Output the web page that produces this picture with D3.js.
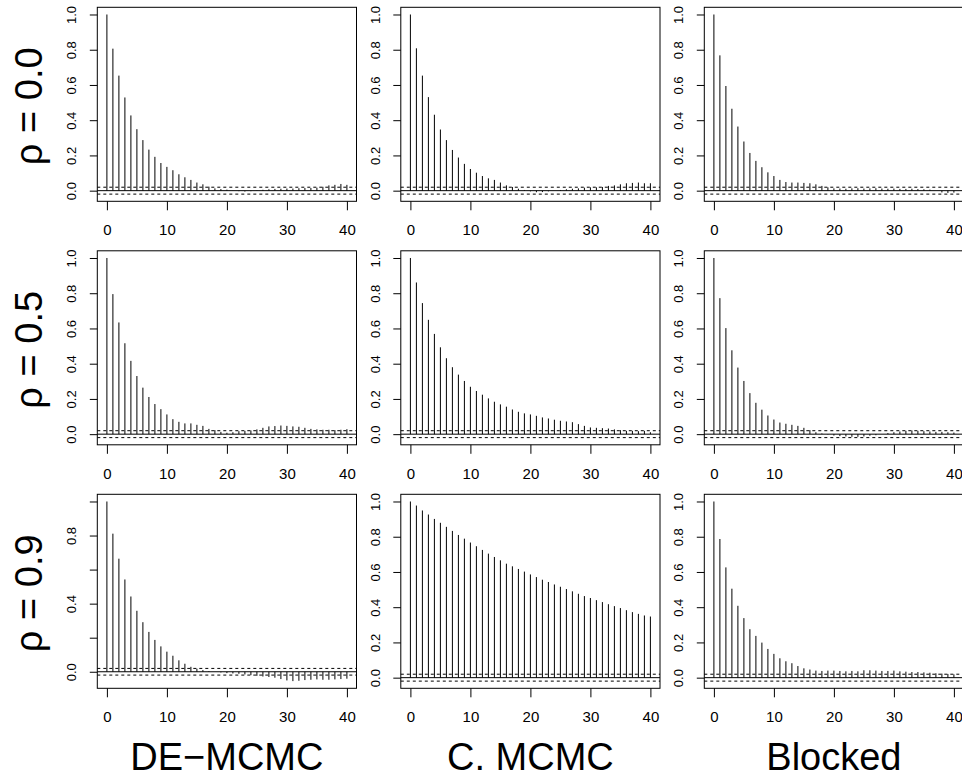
<!DOCTYPE html>
<html lang="en">
<head>
    <meta charset="UTF-8">
    <title>ACF by sampler and correlation</title>
    <script src="https://d3js.org/d3.v7.min.js"></script>
    <style>
        body, html {
            margin: 0;
            padding: 0;
            overflow: hidden;
            background: #fff;
        }
        svg {
            display: block;
            font-family: "Liberation Sans", Arial, Helvetica, sans-serif;
        }
        .bar, .zero, .box {
            stroke: #000;
            stroke-width: 1px;
            fill: none;
        }
        .ci {
            stroke: #000;
            stroke-width: 1px;
            stroke-dasharray: 3,3;
        }
        .x-axis text { font-size: 15px; fill: #000; }
        .y-axis text { font-size: 13px; fill: #000; }
        .x-axis line, .y-axis line { stroke: #000; }
        .big { font-size: 38px; fill: #000; }
    </style>
</head>
<body>
    <svg width="962" height="777" id="chart"></svg>

    <script>
        // panel titles
        const methods = ["DE\u2212MCMC", "C. MCMC", "Blocked"];
        const rhos = ["0.0", "0.5", "0.9"];
        const xTicks = [0, 10, 20, 30, 40];
        const yTicks = [0, 0.2, 0.4, 0.6, 0.8, 1.0];
        const clim = 0.0196; // 1.96 / sqrt(n)

        // autocorrelations, lags 0..40
        const acfDe0 = [1, 0.806, 0.653, 0.529, 0.427, 0.349, 0.287, 0.233, 0.192, 0.157, 0.135,
            0.116, 0.093, 0.076, 0.061, 0.046, 0.036, 0.023, 0.013, 0.009, 0.006,
            0.001, -0.003, -0.005, -0.003, 0.002, 0.005, 0.008, 0.010, 0.011, 0.012,
            0.012, 0.014, 0.015, 0.015, 0.017, 0.022, 0.030, 0.033, 0.038, 0.033];
        const acfCm0 = [1, 0.808, 0.653, 0.531, 0.431, 0.347, 0.287, 0.231, 0.188, 0.152, 0.123,
            0.102, 0.083, 0.070, 0.061, 0.046, 0.030, 0.021, 0.011, 0.004, -0.004,
            -0.009, -0.008, -0.004, 0.000, 0.004, 0.008, 0.011, 0.013, 0.017, 0.019,
            0.019, 0.021, 0.027, 0.030, 0.036, 0.042, 0.044, 0.046, 0.042, 0.042];
        const acfBl0 = [1, 0.768, 0.594, 0.465, 0.364, 0.279, 0.214, 0.169, 0.133, 0.104, 0.083,
            0.061, 0.049, 0.046, 0.046, 0.044, 0.042, 0.036, 0.027, 0.019, 0.013,
            0.012, 0.011, 0.013, 0.014, 0.012, 0.013, 0.014, 0.012, 0.011, 0.012,
            0.010, 0.010, 0.011, 0.009, 0.008, 0.006, 0.000, -0.010, -0.013, -0.011];

        const acfDe5 = [1, 0.795, 0.634, 0.516, 0.416, 0.330, 0.264, 0.211, 0.171, 0.142, 0.112,
            0.085, 0.070, 0.061, 0.061, 0.053, 0.047, 0.030, 0.023, 0.013, 0.008,
            0.011, 0.017, 0.019, 0.021, 0.027, 0.036, 0.044, 0.046, 0.049, 0.047,
            0.044, 0.042, 0.036, 0.030, 0.027, 0.025, 0.025, 0.023, 0.025, 0.028];
        const acfCm5 = [1, 0.861, 0.744, 0.649, 0.569, 0.493, 0.431, 0.380, 0.338, 0.302, 0.269,
            0.245, 0.224, 0.203, 0.184, 0.169, 0.156, 0.140, 0.127, 0.118, 0.112,
            0.104, 0.095, 0.089, 0.082, 0.076, 0.072, 0.068, 0.057, 0.047, 0.038,
            0.036, 0.034, 0.032, 0.027, 0.023, 0.019, 0.019, 0.017, 0.019, 0.011];
        const acfBl5 = [1, 0.772, 0.602, 0.476, 0.378, 0.302, 0.233, 0.178, 0.139, 0.106, 0.083,
            0.066, 0.059, 0.053, 0.047, 0.036, 0.023, 0.011, 0.004, -0.002, -0.008,
            -0.011, -0.013, -0.015, -0.015, -0.013, -0.009, -0.006, 0.000, 0.006, 0.011,
            0.015, 0.019, 0.021, 0.019, 0.017, 0.015, 0.013, 0.013, 0.011, 0.009];

        const acfDe9 = [1, 0.811, 0.664, 0.542, 0.442, 0.358, 0.291, 0.234, 0.187, 0.149, 0.118,
            0.094, 0.067, 0.047, 0.029, 0.018, 0.010, 0.004, 0.000, -0.004, -0.008,
            -0.010, -0.012, -0.016, -0.020, -0.024, -0.028, -0.031, -0.035, -0.043, -0.051,
            -0.055, -0.053, -0.049, -0.047, -0.045, -0.047, -0.047, -0.045, -0.043, -0.041];
        const acfCm9 = [1, 0.977, 0.949, 0.926, 0.901, 0.879, 0.856, 0.833, 0.810, 0.789, 0.767,
            0.746, 0.725, 0.704, 0.685, 0.666, 0.647, 0.632, 0.617, 0.602, 0.586,
            0.571, 0.556, 0.543, 0.529, 0.516, 0.503, 0.490, 0.476, 0.463, 0.452,
            0.440, 0.429, 0.417, 0.406, 0.395, 0.383, 0.372, 0.362, 0.353, 0.347];
        const acfBl9 = [1, 0.787, 0.626, 0.505, 0.408, 0.338, 0.275, 0.237, 0.199, 0.163, 0.135,
            0.110, 0.093, 0.082, 0.066, 0.053, 0.046, 0.040, 0.038, 0.040, 0.040,
            0.038, 0.036, 0.038, 0.036, 0.042, 0.042, 0.040, 0.038, 0.038, 0.040,
            0.036, 0.034, 0.032, 0.032, 0.030, 0.028, 0.025, 0.023, 0.021, 0.019];

        const panels = [
            [acfDe0, acfCm0, acfBl0],
            [acfDe5, acfCm5, acfBl5],
            [acfDe9, acfCm9, acfBl9]
        ];

        const svg = d3.select("#chart");

        const leftX = 97.3, topY = 7.3;
        const colStep = 303.5, rowStep = 243.5;
        const boxW = 259.2, boxH = 194;

        // R pads the data range by 4% on each side
        const x = d3.scaleLinear().domain([-1.6, 41.6]).range([0, boxW]);
        const fmt = d3.format(".1f");

        panels.forEach((row, r) => {
            row.forEach((vals, c) => {
                const g = svg.append("g")
                    .attr("transform", `translate(${leftX + c * colStep},${topY + r * rowStep})`);

                const lo = Math.min(-clim, d3.min(vals));
                const pad = 0.04 * (1 - lo);
                const y = d3.scaleLinear().domain([lo - pad, 1 + pad]).range([boxH, 0]);

                g.selectAll(".bar")
                    .data(vals)
                    .join("line")
                    .attr("class", "bar")
                    .attr("x1", (d, i) => x(i))
                    .attr("x2", (d, i) => x(i))
                    .attr("y1", y(0))
                    .attr("y2", d => y(d));

                g.append("line").attr("class", "zero")
                    .attr("x1", 0).attr("x2", boxW)
                    .attr("y1", y(0)).attr("y2", y(0));

                g.selectAll(".ci")
                    .data([clim, -clim])
                    .join("line")
                    .attr("class", "ci")
                    .attr("x1", 0).attr("x2", boxW)
                    .attr("y1", d => y(d)).attr("y2", d => y(d));

                g.append("rect").attr("class", "box")
                    .attr("x", 0).attr("y", 0)
                    .attr("width", boxW).attr("height", boxH);

                g.append("g")
                    .attr("class", "x-axis")
                    .attr("transform", `translate(0,${boxH})`)
                    .call(d3.axisBottom(x).tickValues(xTicks).tickSize(9).tickPadding(14.5))
                    .call(a => a.select(".domain").remove())
                    .call(a => a.selectAll("text").attr("font-family", null).attr("font-size", null));

                // the squeezed panel drops every other label, like R does
                const sparse = lo < -clim - 0.01;
                g.append("g")
                    .attr("class", "y-axis")
                    .call(d3.axisLeft(y).tickValues(yTicks).tickSize(7.5)
                        .tickFormat((d, i) => (sparse && i % 2 === 1) ? "" : fmt(d)))
                    .call(a => a.select(".domain").remove())
                    .call(a => a.selectAll("text")
                        .attr("font-family", null).attr("font-size", null)
                        .attr("x", null).attr("dy", null)
                        .attr("text-anchor", "middle")
                        .attr("transform", "translate(-21,0) rotate(-90)"));
            });
        });

        // row labels
        svg.selectAll(".rho")
            .data(rhos)
            .join("text")
            .attr("class", "big rho")
            .attr("text-anchor", "middle")
            .attr("transform", (d, i) => `translate(42,${topY + i * rowStep + boxH / 2 + 2}) rotate(-90)`)
            .text(d => `\u03c1 = ${d}`);

        // column labels
        svg.selectAll(".method")
            .data(methods)
            .join("text")
            .attr("class", "big method")
            .attr("text-anchor", "middle")
            .attr("x", (d, i) => leftX + i * colStep + boxW / 2)
            .attr("y", 770)
            .text(d => d);
    </script>
</body>
</html>
